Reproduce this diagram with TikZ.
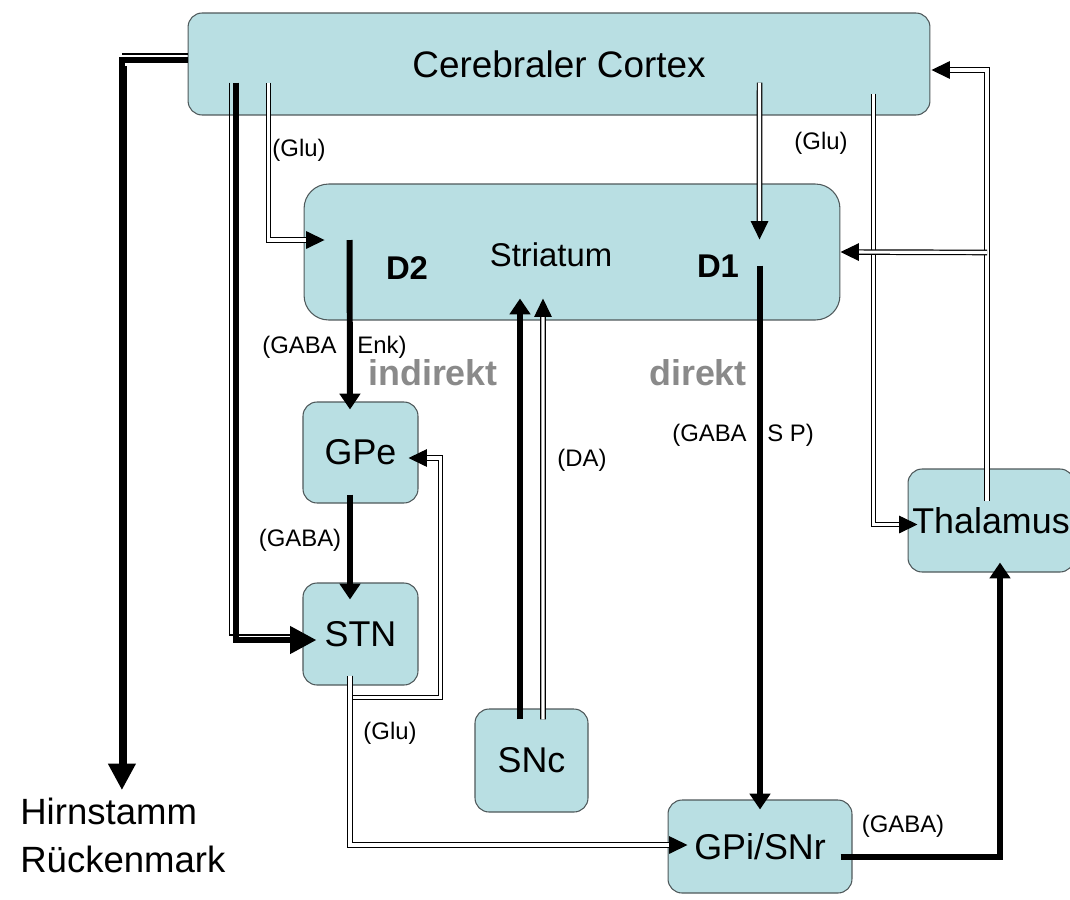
\documentclass[tikz,border=0pt]{standalone}
\usepackage{fontspec}
\setmainfont{Liberation Sans}
\usetikzlibrary{arrows.meta,calc}

\definecolor{kasten}{RGB}{185,223,227}
\definecolor{rand}{RGB}{78,88,90}
\definecolor{bahngrau}{RGB}{138,138,138}

\tikzset{
	kern/.style={draw=rand, line width=0.6pt, fill=kasten, rounded corners=8pt, inner sep=0pt, font=\fontsize{20.4}{24}\selectfont},
	glu/.style={draw=black, line width=0.7pt, double=white, double distance=1.8pt, -{Triangle[length=10.5pt,width=10pt]}},
	gaba/.style={line width=3.4pt, -{Triangle[length=9pt,width=11.5pt]}},
	gabagross/.style={line width=3.4pt, -{Triangle[length=15pt,width=15pt]}},
	begleit/.style={line width=0.7pt},
	stoff/.style={font=\fontsize{13.6}{16}\selectfont, inner sep=0pt},
	bahnname/.style={font=\fontsize{20.4}{24}\selectfont\bfseries, text=bahngrau, inner sep=0pt},
}

\begin{document}
\begin{tikzpicture}[x=0.02cm, y=-0.02cm]
	\useasboundingbox (0,0) rectangle (1070,899);
	\clip (0,0) rectangle (1070,899);

	%%%%% Kerne %%%%%
	\node[kern, minimum width=14.84cm, minimum height=2.04cm, font=\fontsize{21}{25}\selectfont] (cortex) at (559,64) {Cerebraler Cortex};
	\node[kern, minimum width=10.72cm, minimum height=2.72cm, rounded corners=14pt] (striatum) at (572,252) {};
	\node[kern, minimum width=2.3cm, minimum height=2.02cm] (gpe) at (360.5,452.5) {GPe};
	\node[kern, minimum width=2.3cm, minimum height=2.04cm] (stn) at (360.5,634) {STN};
	\node[kern, minimum width=2.26cm, minimum height=2.06cm] (snc) at (531.5,760.5) {SNc};
	\node[kern, minimum width=3.68cm, minimum height=1.86cm] (gpi) at (760,846.5) {GPi/SNr};
	\node[kern, minimum width=3.32cm, minimum height=2.06cm] (thalamus) at (991,520.5) {Thalamus};

	\node[inner sep=0pt, font=\fontsize{18.7}{22}\selectfont] (striatumtext) at (551,255) {Striatum};
	\node[inner sep=0pt, font=\fontsize{18.7}{22}\selectfont\bfseries] (dzwei) at (407,268) {D2};
	\node[inner sep=0pt, font=\fontsize{18.7}{22}\selectfont\bfseries] (deins) at (718,266) {D1};

	\node[anchor=north west, align=left, inner sep=0pt, font=\fontsize{20.8}{27}\selectfont] (hirn) at (20,798) {Hirnstamm\\R\"uckenmark};

	%%%%% Bahnen %%%%%
	\draw[gabagross] ($(cortex.west)+(0,-4)$) -| ($(hirn.north)+(-1,-8)$);
	\draw[begleit] ($(cortex.west)+(0,-10)$) -- (122,54);
	\draw[begleit] (126,66) -- (126,764);

	\draw[gabagross] ($(cortex.south west)+(48,-33)$) |- ($(stn.west)+(14,6)$);
	\draw[begleit] ($(cortex.south west)+(42,-33)$) |- (296,635);

	\draw[glu] ($(cortex.south west)+(81,-33)$) |- ($(striatum.west)+(21,-12)$);
	\draw[glu] ($(cortex.south west)+(572,-33)$) -- ($(striatum.north west)+(456,56)$);

	\draw[glu] ($(cortex.south east)+(-57,-22)$) |- ($(thalamus.west)+(10,4)$);
	\draw[glu] ($(thalamus.north)+(-4,33)$) |- ($(cortex.east)+(1,6)$);
	\draw[glu] ($(thalamus.north)+(-4,-216)$) -- (striatum.east);

	\draw[gaba] ($(striatum.west)+(46,-12)$) -- ($(gpe.north)+(-10.5,8)$);
	\draw[gaba] ($(gpe.south)+(-10.5,-9)$) -- ($(stn.north)+(-10.5,17)$);

	\draw[glu] ($(stn.south)+(-10.5,-10)$) -- ++(0,22) -| ($(gpe.east)+(22,5.5)$) -- ($(gpe.east)+(-10,5.5)$);
	\draw[glu] ($(stn.south)+(-10.5,-10)$) |- ($(gpi.west)+(20,-1.5)$);

	\draw[gaba] ($(snc.north)+(-11.5,11)$) -- ($(striatum.south)+(-52,-22)$);
	\draw[glu] ($(snc.north)+(11.5,11)$) -- ($(striatum.south)+(-29,-22)$);

	\draw[gaba] ($(striatum.south)+(188,-55)$) -- ($(gpi.north)+(0,10)$);
	\draw[gaba] ($(gpi.east)+(-12,10.5)$) -| ($(thalamus.south)+(9,-10)$);

	%%%%% Transmitter %%%%%
	\node[stoff] (glueins) at (299,150) {(Glu)};
	\node[stoff] (gluzwei) at (821,143) {(Glu)};
	\node[stoff, anchor=east] (gabaenk) at (337,347) {(GABA};
	\node[stoff, anchor=west] (enk) at (357,347) {Enk)};
	\node[stoff] (gabagpe) at (300,540) {(GABA)};
	\node[stoff] (glustn) at (390,733) {(Glu)};
	\node[stoff] (da) at (582,460) {(DA)};
	\node[stoff, anchor=east] (gabasp) at (747,435) {(GABA};
	\node[stoff, anchor=west] (sp) at (767,435) {S P)};
	\node[stoff] (gabagpi) at (903,826) {(GABA)};

	\node[bahnname] (indirekt) at (433,373) {indirekt};
	\node[bahnname] (direkt) at (698,373) {direkt};
\end{tikzpicture}
\end{document}
